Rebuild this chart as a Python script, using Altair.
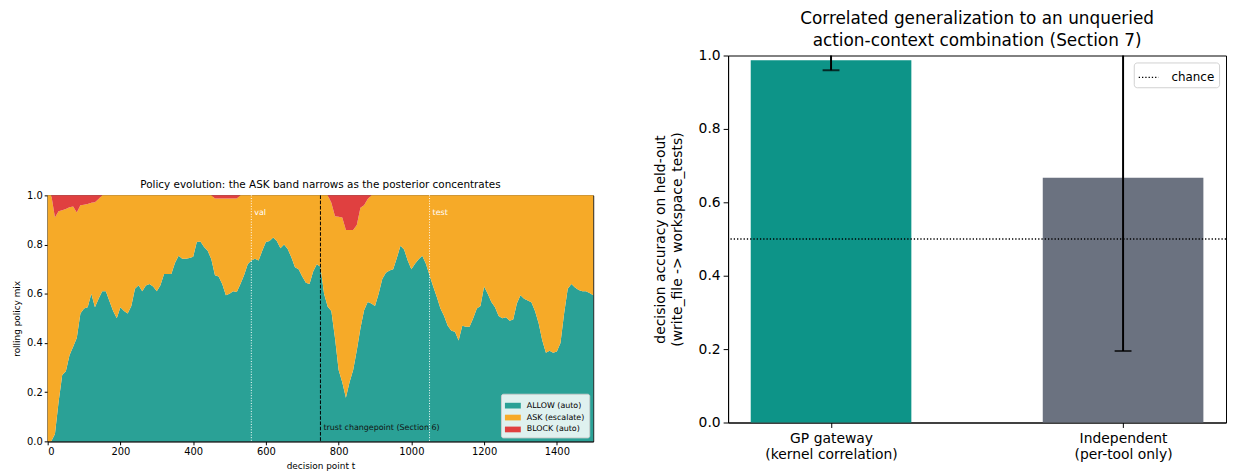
import altair as alt
import pandas as pd

FONT = "DejaVu Sans"

# ---------------- left panel data: rolling policy mix ----------------
T = list(range(0, 1501, 10))
ALLOW = [
    0.0, 0.0, 0.03, 0.16, 0.27, 0.285, 0.35, 0.385, 0.42, 0.52,
    0.54, 0.545, 0.60, 0.545, 0.58, 0.61, 0.61, 0.57, 0.53, 0.50,
    0.545, 0.53, 0.52, 0.55, 0.62, 0.635, 0.61, 0.634, 0.64, 0.63,
    0.61, 0.635, 0.68, 0.68, 0.68, 0.725, 0.755, 0.742, 0.742, 0.745,
    0.75, 0.81, 0.812, 0.79, 0.775, 0.74, 0.675, 0.67, 0.64, 0.594,
    0.60, 0.61, 0.607, 0.64, 0.675, 0.72, 0.735, 0.742, 0.735, 0.775,
    0.81, 0.815, 0.829, 0.815, 0.785, 0.80, 0.782, 0.748, 0.708, 0.70,
    0.67, 0.645, 0.64, 0.69, 0.72, 0.71, 0.60, 0.547, 0.53, 0.42,
    0.29, 0.24, 0.177, 0.24, 0.29, 0.37, 0.46, 0.533, 0.567, 0.56,
    0.55, 0.60, 0.66, 0.685, 0.695, 0.70, 0.745, 0.795, 0.78, 0.735,
    0.70, 0.722, 0.74, 0.755, 0.722, 0.675, 0.63, 0.587, 0.54, 0.51,
    0.47, 0.45, 0.446, 0.41, 0.47, 0.466, 0.466, 0.50, 0.54, 0.55,
    0.63, 0.60, 0.567, 0.545, 0.51, 0.50, 0.505, 0.49, 0.495, 0.56,
    0.594, 0.58, 0.573, 0.565, 0.53, 0.48, 0.41, 0.36, 0.368, 0.36,
    0.365, 0.40, 0.52, 0.62, 0.64, 0.625, 0.615, 0.61, 0.61, 0.603,
    0.594,
]
BLOCK = [
    0.0, 0.0, 0.09, 0.065, 0.06, 0.055, 0.048, 0.045, 0.07, 0.04,
    0.038, 0.035, 0.03, 0.028, 0.015, 0.0, 0.0, 0.0, 0.0, 0.0,
    0.0, 0.0, 0.0, 0.0, 0.0, 0.0, 0.0, 0.0, 0.0, 0.0,
    0.0, 0.0, 0.0, 0.0, 0.0, 0.0, 0.0, 0.0, 0.0, 0.0,
    0.0, 0.0, 0.0, 0.0, 0.0, 0.0, 0.013, 0.013, 0.013, 0.013,
    0.013, 0.013, 0.013, 0.0, 0.0, 0.0, 0.0, 0.0, 0.0, 0.0,
    0.0, 0.0, 0.0, 0.0, 0.0, 0.0, 0.0, 0.0, 0.0, 0.0,
    0.0, 0.0, 0.0, 0.0, 0.0, 0.0, 0.0, 0.0, 0.03, 0.085,
    0.087, 0.09, 0.141, 0.141, 0.141, 0.12, 0.05, 0.04, 0.015, 0.0,
    0.0, 0.0, 0.0, 0.0, 0.0, 0.0, 0.0, 0.0, 0.0, 0.0,
    0.0, 0.0, 0.0, 0.0, 0.0, 0.0, 0.0, 0.0, 0.0, 0.0,
    0.0, 0.0, 0.0, 0.0, 0.0, 0.0, 0.0, 0.0, 0.0, 0.0,
    0.0, 0.0, 0.0, 0.0, 0.0, 0.0, 0.0, 0.0, 0.0, 0.0,
    0.0, 0.0, 0.0, 0.0, 0.0, 0.0, 0.0, 0.0, 0.0, 0.0,
    0.0, 0.0, 0.0, 0.0, 0.0, 0.0, 0.0, 0.0, 0.0, 0.0,
    0.0,
]
POLICY_NAMES = ["ALLOW (auto)", "ASK (escalate)", "BLOCK (auto)"]
POLICY_COLORS = ["#2aa196", "#f6aa28", "#e04040"]

X_TICKS = [0, 200, 400, 600, 800, 1000, 1200, 1400]
Y_TICKS = [0.0, 0.2, 0.4, 0.6, 0.8, 1.0]

MARK_T = [560, 750, 1050]
MARK_KIND = ["split", "change", "split"]
MARK_TEXT = ["val", "trust changepoint (Section 6)", "test"]
MARK_TEXT_Y = [0.93, 0.054, 0.93]

# ---------------- right panel data ----------------
METHOD_LINES = [["GP gateway", "(kernel correlation)"], ["Independent", "(per-tool only)"]]
METHOD_POS = [0, 1]
ACCURACY = [0.987, 0.667]
ERR_LO = [0.960, 0.195]
ERR_HI = [1.014, 1.139]
BAR_COLORS = ["#0d9488", "#6b7280"]
BAR_WIDTH = 0.55
CHANCE = 0.5

# ---------------- left panel ----------------
rows = []
for t, a, b in zip(T, ALLOW, BLOCK):
    rows.append({"t": t, "policy": POLICY_NAMES[0], "ord": 0, "v": a})
    rows.append({"t": t, "policy": POLICY_NAMES[1], "ord": 1, "v": max(0.0, 1.0 - a - b)})
    rows.append({"t": t, "policy": POLICY_NAMES[2], "ord": 2, "v": b})
mix = pd.DataFrame(rows)

xl_scale = alt.Scale(domain=[0, 1500], nice=False, zero=False)
yl_scale = alt.Scale(domain=[0, 1], nice=False)
xl_axis = alt.Axis(values=X_TICKS, format="d", title="decision point t", titleFontSize=9,
                   labelFontSize=10, tickSize=3.5, labelPadding=2, titlePadding=5)
yl_axis = alt.Axis(values=Y_TICKS, format=".1f", title="rolling policy mix",
                   titleFontSize=9, labelFontSize=10, tickSize=3.5, labelPadding=2,
                   titlePadding=5)

area = alt.Chart(mix).mark_area(interpolate="linear").encode(
    x=alt.X("t:Q", scale=xl_scale, axis=xl_axis),
    y=alt.Y("v:Q", stack="zero", scale=yl_scale, axis=yl_axis),
    color=alt.Color(
        "policy:N",
        scale=alt.Scale(domain=POLICY_NAMES, range=POLICY_COLORS),
        legend=alt.Legend(
            title=None, orient="bottom-right", offset=4,
            fillColor="rgba(255,255,255,0.85)", strokeColor="#cccccc",
            cornerRadius=2, padding=4, labelFontSize=8, labelFont=FONT,
            symbolType="M-1,-0.36H1V0.36H-1Z", symbolSize=256,
            symbolStrokeWidth=0, symbolOpacity=1, rowPadding=-3, labelOffset=6,
        ),
    ),
    order=alt.Order("ord:Q"),
)

marks = pd.DataFrame({"t": MARK_T, "kind": MARK_KIND, "txt": MARK_TEXT, "ty": MARK_TEXT_Y})

split_rules = alt.Chart(marks).transform_filter("datum.kind == 'split'").mark_rule(
    color="white", strokeWidth=1, strokeDash=[1, 1.65]
).encode(x=alt.X("t:Q", scale=xl_scale, axis=xl_axis))

change_rule = alt.Chart(marks).transform_filter("datum.kind == 'change'").mark_rule(
    color="black", strokeWidth=1, strokeDash=[3.7, 1.6]
).encode(x=alt.X("t:Q", scale=xl_scale, axis=xl_axis))

split_text = alt.Chart(marks).transform_filter("datum.kind == 'split'").mark_text(
    align="left", baseline="middle", dx=3, fontSize=8, font=FONT, color="white"
).encode(x=alt.X("t:Q", scale=xl_scale, axis=xl_axis),
         y=alt.Y("ty:Q", scale=yl_scale, axis=yl_axis), text="txt:N")

change_text = alt.Chart(marks).transform_filter("datum.kind == 'change'").mark_text(
    align="left", baseline="middle", dx=3, fontSize=8, font=FONT, color="#111111"
).encode(x=alt.X("t:Q", scale=xl_scale, axis=xl_axis),
         y=alt.Y("ty:Q", scale=yl_scale, axis=yl_axis), text="txt:N")

left = alt.layer(area, split_rules, change_rule, split_text, change_text).properties(
    width=550, height=248,
    title=alt.TitleParams(
        "Policy evolution: the ASK band narrows as the posterior concentrates",
        fontSize=10.5, font=FONT, fontWeight="normal", offset=0, color="black",
    ),
)

spacer = alt.Chart(pd.DataFrame({"s": [0]})).mark_point(opacity=0).encode(
    x=alt.X("s:Q", axis=None), y=alt.Y("s:Q", axis=None)
).properties(width=550, height=125, view=alt.ViewBackground(strokeOpacity=0))

left_col = alt.vconcat(spacer, left, spacing=0).resolve_scale(
    color="independent"
).resolve_legend(color="independent")

# ---------------- right panel ----------------
label_expr = "datum.value == {} ? ['{}', '{}'] : ['{}', '{}']".format(
    METHOD_POS[0], METHOD_LINES[0][0], METHOD_LINES[0][1],
    METHOD_LINES[1][0], METHOD_LINES[1][1],
)
xr_scale = alt.Scale(domain=[-0.3525, 1.3525], nice=False, zero=False)
yr_scale = alt.Scale(domain=[0, 1], nice=False)
xr_axis = alt.Axis(values=METHOD_POS, labelExpr=label_expr, title=None,
                   labelFontSize=14, tickSize=5, labelLineHeight=16.5, labelPadding=4)
yr_axis = alt.Axis(values=Y_TICKS, format=".1f",
                   title=["decision accuracy on held-out", "(write_file -> workspace_tests)"],
                   titleFontSize=14, titleLineHeight=17, labelFontSize=14, tickSize=5,
                   labelPadding=3, titlePadding=14)

bdf = pd.DataFrame({
    "pos": METHOD_POS, "acc": ACCURACY, "lo": ERR_LO, "hi": ERR_HI,
    "method": [m[0] for m in METHOD_LINES],
})

bars = alt.Chart(bdf).transform_calculate(
    x0="datum.pos - {}".format(BAR_WIDTH / 2),
    x1="datum.pos + {}".format(BAR_WIDTH / 2),
).mark_bar().encode(
    x=alt.X("x0:Q", scale=xr_scale, axis=xr_axis),
    x2="x1:Q",
    y=alt.Y("acc:Q", scale=yr_scale, axis=yr_axis),
    y2=alt.datum(0),
    color=alt.Color("method:N",
                    scale=alt.Scale(domain=[m[0] for m in METHOD_LINES], range=BAR_COLORS),
                    legend=None),
)

chance = alt.Chart(pd.DataFrame({"y": [CHANCE], "label": ["chance"]})).mark_rule(
    color="black", strokeWidth=1.3
).encode(
    y=alt.Y("y:Q", scale=yr_scale, axis=yr_axis),
    strokeDash=alt.StrokeDash(
        "label:N",
        scale=alt.Scale(domain=["chance"], range=[[1.3, 2.0]]),
        legend=alt.Legend(
            title=None, orient="top-right", offset=7, fillColor="white",
            strokeColor="#d0d0d0", cornerRadius=3, padding=4, labelFontSize=12,
            labelFont=FONT, symbolType="stroke", symbolStrokeColor="black",
            symbolStrokeWidth=1.3, symbolSize=400, labelOffset=12,
        ),
    ),
)

err = alt.Chart(bdf).mark_rule(color="black", strokeWidth=2, clip=True).encode(
    x=alt.X("pos:Q", scale=xr_scale, axis=xr_axis),
    y=alt.Y("lo:Q", scale=yr_scale, axis=yr_axis),
    y2="hi:Q",
)

caps = alt.Chart(bdf).transform_fold(["lo", "hi"], as_=["end", "ey"]).mark_tick(
    orient="horizontal", size=17, thickness=2, color="black", clip=True
).encode(
    x=alt.X("pos:Q", scale=xr_scale, axis=xr_axis),
    y=alt.Y("ey:Q", scale=yr_scale, axis=yr_axis),
)

right = alt.layer(bars, chance, err, caps).properties(
    width=502, height=370,
    title=alt.TitleParams(
        ["Correlated generalization to an unqueried", "action-context combination (Section 7)"],
        fontSize=17, lineHeight=21.5, font=FONT, fontWeight="normal", offset=-1, color="black",
    ),
)

chart = alt.hconcat(left_col, right, spacing=59).resolve_scale(
    color="independent", strokeDash="independent"
).resolve_legend(
    color="independent", strokeDash="independent"
).properties(padding={"left": 4, "top": 0, "right": 0, "bottom": 0}).configure_view(
    stroke="black", strokeWidth=1
).configure_axis(
    grid=False, domainColor="black", tickColor="black", labelColor="black",
    titleColor="black", labelFont=FONT, titleFont=FONT, titleFontWeight="normal",
).configure_legend(labelColor="black")

chart.save("out.html", embed_options={"renderer": "svg", "actions": False})
